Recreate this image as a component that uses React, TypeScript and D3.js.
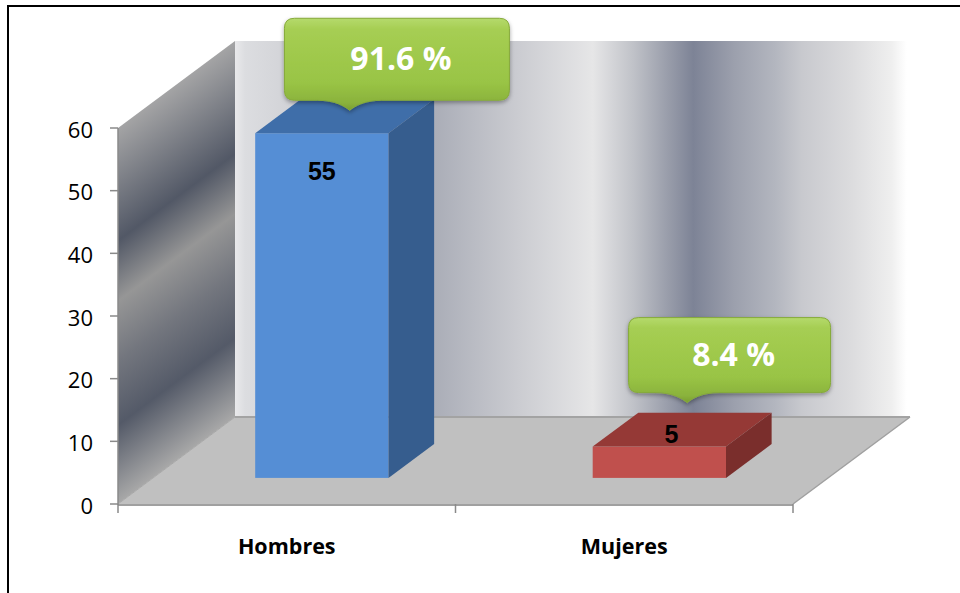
import React from 'react';
import * as d3 from 'd3';

// ---- data ----
const categories: string[] = ['Hombres', 'Mujeres'];
const values: number[] = [55, 5];
const percentLabels: string[] = ['91.6 %', '8.4 %'];
const yTicks: number[] = [0, 10, 20, 30, 40, 50, 60];

// ---- styles ----
const barColors = [
  { front: '#558ed5', top: '#3f6ea9', side: '#365d8e' },
  { front: '#c0504d', top: '#953936', side: '#7a2e2c' },
];

// ---- layout ----
const W = 960;
const H = 593;
const PLOT_LEFT = 118;
const PLOT_RIGHT = 793;
const FLOOR_Y = 504;
const TOP_Y = 128;
const DEPTH_DX = 117;
const DEPTH_DY = -87;
const BAR_FRONT_DEPTH = 0.3;
const BAR_DEPTH = 0.39;
const BAR_WIDTH_FRAC = 0.395;
const CALLOUT_LIFT = [6, 27];

const backWallStops: [number, string][] = [
  [0, '#e9e9eb'],
  [0.015, '#dcdde0'],
  [0.096, '#cfd0d5'],
  [0.299, '#abaeb8'],
  [0.42, '#cbccd1'],
  [0.53, '#e6e6e7'],
  [0.59, '#c0c2c8'],
  [0.64, '#9a9eab'],
  [0.679, '#7d8396'],
  [0.74, '#9ca0ad'],
  [0.8, '#b3b6bf'],
  [0.84, '#c8c9ce'],
  [0.914, '#dcdcde'],
  [0.973, '#efefef'],
  [0.995, '#ffffff'],
  [1, '#ffffff'],
];

const leftWallStops: [number, string][] = [
  [0, '#a4a4a5'],
  [0.3, '#525866'],
  [0.46, '#969696'],
  [0.62, '#73767e'],
  [0.79, '#545a68'],
  [1, '#a8a8a8'],
];

function calloutPath(x0: number, y0: number, x1: number, y1: number, r: number, tx: number, ty: number, hw: number) {
  return [
    `M${x0 + r},${y0}`,
    `H${x1 - r}`,
    `Q${x1},${y0} ${x1},${y0 + r}`,
    `V${y1 - r}`,
    `Q${x1},${y1} ${x1 - r},${y1}`,
    `H${tx + hw}`,
    `C${tx + hw * 0.45},${y1} ${tx + 5},${ty - 4} ${tx},${ty}`,
    `C${tx - 5},${ty - 4} ${tx - hw * 0.45},${y1} ${tx - hw},${y1}`,
    `H${x0 + r}`,
    `Q${x0},${y1} ${x0},${y1 - r}`,
    `V${y0 + r}`,
    `Q${x0},${y0} ${x0 + r},${y0}`,
    'Z',
  ].join(' ');
}

export default function App() {
  const x = d3.scaleBand<string>().domain(categories).range([PLOT_LEFT, PLOT_RIGHT]);
  const y = d3.scaleLinear().domain([0, 60]).range([FLOOR_Y, TOP_Y]);

  const y0 = y(0);
  const yTop = y(60);

  // perpendicular direction to depth for left wall gradient
  const len = Math.hypot(DEPTH_DX, DEPTH_DY);
  const px = -DEPTH_DY / len;
  const py = DEPTH_DX / len;
  const corners = [
    [PLOT_LEFT, yTop],
    [PLOT_LEFT, y0],
    [PLOT_LEFT + DEPTH_DX, yTop + DEPTH_DY],
    [PLOT_LEFT + DEPTH_DX, y0 + DEPTH_DY],
  ];
  const proj = corners.map(([cx, cy]) => cx * px + cy * py);
  const pMin = Math.min(...proj);
  const pMax = Math.max(...proj);
  const gx1 = PLOT_LEFT + (pMin - (PLOT_LEFT * px + yTop * py)) * px;
  const gy1 = yTop + (pMin - (PLOT_LEFT * px + yTop * py)) * py;
  const gx2 = gx1 + (pMax - pMin) * px;
  const gy2 = gy1 + (pMax - pMin) * py;

  const backX0 = PLOT_LEFT + DEPTH_DX;
  const backX1 = PLOT_RIGHT + DEPTH_DX;
  const backY0 = yTop + DEPTH_DY;
  const backY1 = y0 + DEPTH_DY;

  const fdx = BAR_FRONT_DEPTH * DEPTH_DX;
  const fdy = BAR_FRONT_DEPTH * DEPTH_DY;
  const bdx = BAR_DEPTH * DEPTH_DX;
  const bdy = BAR_DEPTH * DEPTH_DY;

  const bars = categories.map((c, i) => {
    const cx = (x(c) as number) + x.bandwidth() / 2;
    const w = x.bandwidth() * BAR_WIDTH_FRAC;
    const xl = cx - w / 2 + fdx;
    const xr = cx + w / 2 + fdx;
    const yt = y(values[i]) + fdy;
    const yb = y(0) + fdy;
    return { c, i, cx, xl, xr, yt, yb, v: values[i] };
  });

  return (
    <svg
      width={W}
      height={H}
      viewBox={`0 0 ${W} ${H}`}
      style={{ position: 'absolute', left: 0, top: 0, background: '#fff' }}
    >
      <defs>
        <linearGradient id="backWall" gradientUnits="userSpaceOnUse" x1={backX0} y1={0} x2={backX1} y2={0}>
          {backWallStops.map(([o, col], k) => (
            <stop key={k} offset={o} stopColor={col} />
          ))}
        </linearGradient>
        <linearGradient id="leftWall" gradientUnits="userSpaceOnUse" x1={gx1} y1={gy1} x2={gx2} y2={gy2}>
          {leftWallStops.map(([o, col], k) => (
            <stop key={k} offset={o} stopColor={col} />
          ))}
        </linearGradient>
        <linearGradient id="green" x1="0" y1="0" x2="0" y2="1">
          <stop offset="0" stopColor="#b5da6c" />
          <stop offset="0.12" stopColor="#a6ce53" />
          <stop offset="0.7" stopColor="#99c445" />
          <stop offset="0.92" stopColor="#8ab23c" />
          <stop offset="1" stopColor="#7a9e31" />
        </linearGradient>
        <filter id="shadow" x="-10%" y="-10%" width="120%" height="140%">
          <feDropShadow dx="0" dy="2" stdDeviation="2" floodColor="#000" floodOpacity="0.35" />
        </filter>
      </defs>

      {/* back wall */}
      <rect x={backX0} y={backY0} width={backX1 - backX0} height={backY1 - backY0} fill="url(#backWall)" />

      {/* left wall */}
      <polygon
        points={`${PLOT_LEFT},${y0} ${PLOT_LEFT},${yTop} ${PLOT_LEFT + DEPTH_DX},${yTop + DEPTH_DY} ${PLOT_LEFT + DEPTH_DX},${y0 + DEPTH_DY}`}
        fill="url(#leftWall)"
      />

      {/* floor */}
      <polygon
        points={`${PLOT_LEFT},${y0} ${PLOT_RIGHT},${y0} ${PLOT_RIGHT + DEPTH_DX},${y0 + DEPTH_DY} ${PLOT_LEFT + DEPTH_DX},${y0 + DEPTH_DY}`}
        fill="#c0c0c0"
      />
      <line x1={backX0} x2={backX1} y1={backY1} y2={backY1} stroke="#a3a3a3" strokeWidth={2} />
      <line x1={PLOT_RIGHT} y1={y0} x2={PLOT_RIGHT + DEPTH_DX} y2={y0 + DEPTH_DY} stroke="#a0a0a0" strokeWidth={1.5} />
      <line x1={PLOT_LEFT} y1={y0} x2={PLOT_LEFT + DEPTH_DX} y2={y0 + DEPTH_DY} stroke="#a8a8a8" strokeWidth={1} />

      {/* bars */}
      {bars.map((b) => (
        <g key={b.c}>
          <rect x={b.xl} y={b.yt} width={b.xr - b.xl} height={b.yb - b.yt} fill={barColors[b.i].front} />
          <polygon
            points={`${b.xl},${b.yt} ${b.xr},${b.yt} ${b.xr + bdx},${b.yt + bdy} ${b.xl + bdx},${b.yt + bdy}`}
            fill={barColors[b.i].top}
          />
          <polygon
            points={`${b.xr},${b.yt} ${b.xr + bdx},${b.yt + bdy} ${b.xr + bdx},${b.yb + bdy} ${b.xr},${b.yb}`}
            fill={barColors[b.i].side}
          />
        </g>
      ))}

      {/* value labels */}
      {bars.map((b) => {
        const tall = b.yb - b.yt > 60;
        const lx = tall ? (b.xl + b.xr) / 2 : (b.xl + b.xr) / 2 + 12;
        const ly = tall ? b.yt + 47 : b.yt - 4;
        return (
          <text
            key={'v' + b.c}
            x={lx}
            y={ly}
            textAnchor="middle"
            fontFamily="'Liberation Sans', Arial, sans-serif"
            fontWeight="bold"
            fontSize={25}
            fill="#000"
          >
            {b.v}
          </text>
        );
      })}

      {/* axes */}
      <line x1={PLOT_LEFT} x2={PLOT_RIGHT} y1={y0 + 1} y2={y0 + 1} stroke="#a0a0a0" strokeWidth={2} />
      <line x1={PLOT_LEFT} x2={PLOT_LEFT} y1={yTop} y2={y0 + 1} stroke="#8a8a8a" strokeWidth={1.5} />
      {yTicks.map((t) => (
        <g key={'yt' + t}>
          <line x1={PLOT_LEFT - 8} x2={PLOT_LEFT} y1={y(t)} y2={y(t)} stroke="#8a8a8a" strokeWidth={1.5} />
          <text
            x={93}
            y={y(t) + 9.5}
            textAnchor="end"
            fontFamily="'Open Sans', sans-serif"
            fontSize={22}
            fill="#000"
          >
            {t}
          </text>
        </g>
      ))}
      {[PLOT_LEFT, ...categories.map((c) => (x(c) as number) + x.bandwidth())].map((tx, k) => (
        <line key={'xt' + k} x1={tx} x2={tx} y1={y0} y2={y0 + 9} stroke="#8a8a8a" strokeWidth={1.5} />
      ))}
      {categories.map((c) => (
        <text
          key={'xl' + c}
          x={(x(c) as number) + x.bandwidth() / 2}
          y={554}
          textAnchor="middle"
          fontFamily="'Open Sans', sans-serif"
          fontWeight="bold"
          fontSize={21.5}
          fill="#000"
        >
          {c}
        </text>
      ))}

      {/* callouts */}
      {bars.map((b) => {
        const topCx = (b.xl + b.xr) / 2 + bdx / 2;
        const topCy = b.yt + bdy / 2;
        const tx = topCx + 5;
        const ty = topCy - CALLOUT_LIFT[b.i];
        const label = percentLabels[b.i];
        const bw = 87 + label.length * 23;
        const bh = b.i === 0 ? 82 : 75;
        const bx0 = tx - bw * 0.29;
        const bx1 = bx0 + bw;
        const by1 = ty - 10;
        const by0 = by1 - bh;
        return (
          <g key={'co' + b.c}>
            <path
              d={calloutPath(bx0, by0, bx1, by1, 10, tx, ty, 32)}
              fill="url(#green)"
              stroke="#86aa3a"
              strokeWidth={1}
              filter="url(#shadow)"
            />
            <text
              x={(bx0 + bx1) / 2 + 4}
              y={(by0 + by1) / 2 + 11}
              textAnchor="middle"
              fontFamily="'Open Sans', sans-serif"
              fontWeight="bold"
              fontSize={32}
              fill="#fff"
            >
              {label}
            </text>
          </g>
        );
      })}

      {/* outer border */}
      <rect x={8} y={6} width={1200} height={1200} fill="none" stroke="#000" strokeWidth={2} />
    </svg>
  );
}
